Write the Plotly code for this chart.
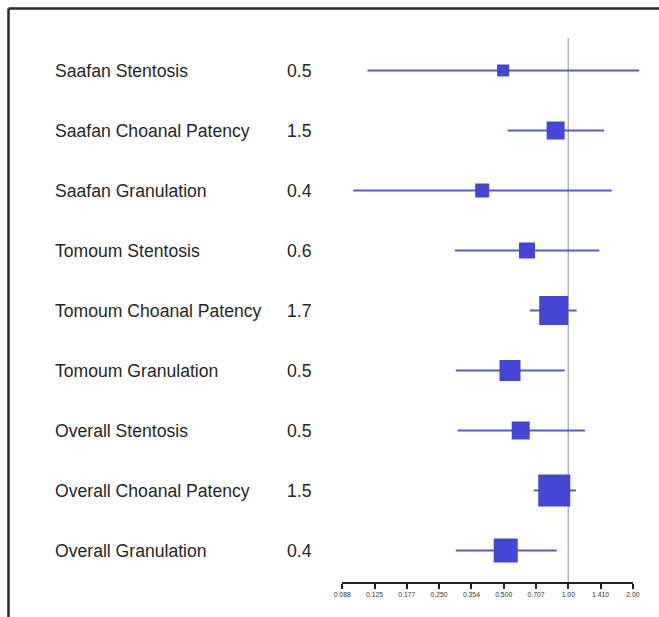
import math
import plotly.graph_objects as go

# ---- data ----
labels = ["Saafan Stentosis", "Saafan Choanal Patency", "Saafan Granulation",
          "Tomoum Stentosis", "Tomoum Choanal Patency", "Tomoum Granulation",
          "Overall Stentosis", "Overall Choanal Patency", "Overall Granulation"]
value_text = ["0.5", "1.5", "0.4", "0.6", "1.7", "0.5", "0.5", "1.5", "0.4"]
estimate = [0.497, 0.873, 0.397, 0.642, 0.855, 0.535, 0.600, 0.860, 0.511]
ci_low = [0.116, 0.522, 0.0995, 0.296, 0.663, 0.299, 0.305, 0.690, 0.299]
ci_high = [2.14, 1.467, 1.593, 1.395, 1.094, 0.962, 1.196, 1.086, 0.883]
weights = [3.0, 4.5, 3.5, 4.0, 7.25, 5.25, 4.5, 8.0, 6.0]
tick_vals = [0.08839, 0.125, 0.17678, 0.25, 0.35355, 0.5, 0.70711, 1.0, 1.41421, 2.0]
tick_text = ["0.088", "0.125", "0.177", "0.250", "0.354", "0.500", "0.707", "1.00", "1.410", "2.00"]

W, H = 659, 617
n = len(labels)
rows = [n - i for i in range(n)]  # top row = n

# pixel geometry -> axis ranges
x_one_px = 568.3
px_per_dec = 64.6 / math.log10(2)
x_range_full = [(0 - x_one_px) / px_per_dec, (W - x_one_px) / px_per_dec]
ax_left_px = x_one_px + px_per_dec * math.log10(tick_vals[0])
ax_right_px = x_one_px + px_per_dec * math.log10(tick_vals[-1])

row_top_px, row_step = 70.5, 60.0
y_top = n + row_top_px / row_step
y_bot = n - (H - row_top_px) / row_step
axis_y_px = 582
axis_y_paper = (H - axis_y_px) / H

blue = "#4646d6"
line_blue = "#5a5ad0"
text_font = dict(family="Liberation Sans, Arial", size=17.6, color="#262626")

fig = go.Figure()

# CI lines
for r, lo, hi in zip(rows, ci_low, ci_high):
    fig.add_trace(go.Scatter(x=[lo, hi], y=[r, r], mode="lines",
                             line=dict(color=line_blue, width=2),
                             hoverinfo="skip", showlegend=False,
                             xaxis="x", yaxis="y"))
# squares
fig.add_trace(go.Scatter(x=estimate, y=rows, mode="markers",
                         marker=dict(symbol="square", color=blue, opacity=1,
                                     size=[w * 4 for w in weights],
                                     line=dict(width=0)),
                         showlegend=False, xaxis="x", yaxis="y"))
# invisible trace for display axis
fig.add_trace(go.Scatter(x=[1], y=[0], mode="markers", marker=dict(opacity=0),
                         showlegend=False, hoverinfo="skip", xaxis="x2", yaxis="y2"))

# labels and values
for r, lab, vt in zip(rows, labels, value_text):
    fig.add_annotation(x=53 / W, xref="paper", y=r, yref="y", text=lab,
                       showarrow=False, xanchor="left", yanchor="middle", font=text_font)
    fig.add_annotation(x=285 / W, xref="paper", y=r, yref="y", text=vt,
                       showarrow=False, xanchor="left", yanchor="middle", font=text_font)

# reference line at 1
fig.add_shape(type="line", xref="x", yref="paper", x0=1, x1=1,
              y0=axis_y_paper, y1=(H - 38) / H,
              line=dict(color="#b4b4b4", width=1.5), layer="below")

# frame (top and left)
fig.add_shape(type="line", xref="paper", yref="paper", x0=8.5 / W, x1=1.0,
              y0=(H - 8.5) / H, y1=(H - 8.5) / H, line=dict(color="#2a2a2a", width=2.5))
fig.add_shape(type="line", xref="paper", yref="paper", x0=8.5 / W, x1=8.5 / W,
              y0=0, y1=(H - 8.5) / H, line=dict(color="#2a2a2a", width=2.5))

fig.update_layout(
    width=W, height=H,
    margin=dict(l=0, r=0, t=0, b=0, pad=0, autoexpand=False),
    paper_bgcolor="white", plot_bgcolor="rgba(0,0,0,0)",
    showlegend=False,
    xaxis=dict(type="log", range=x_range_full, domain=[0, 1], visible=False),
    yaxis=dict(range=[y_bot, y_top], domain=[0, 1], visible=False),
    xaxis2=dict(type="log", range=[math.log10(tick_vals[0]), math.log10(tick_vals[-1])],
                domain=[ax_left_px / W, ax_right_px / W], anchor="y2",
                showline=True, linecolor="#222", linewidth=1.5,
                ticks="outside", ticklen=5, tickwidth=1.5, tickcolor="#222",
                tickvals=tick_vals, ticktext=tick_text, showgrid=False, zeroline=False,
                tickfont=dict(family="Liberation Sans, Arial", size=6.8, color="#333")),
    yaxis2=dict(domain=[axis_y_paper, 1], anchor="x2", visible=False, range=[0, 1]),
)

fig.write_html("out.html", config={"displayModeBar": False},
               post_script="document.body.style.margin='0';document.body.style.overflow='hidden';")
